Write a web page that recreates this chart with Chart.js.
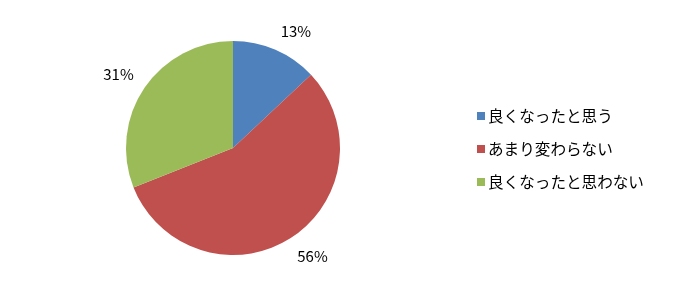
<!DOCTYPE html>
<html>
<head>
<meta charset="utf-8">
<script src="https://cdn.jsdelivr.net/npm/chart.js@4"></script>
<style>
  html, body { margin: 0; padding: 0; background: #fff; }
  #wrap { width: 674px; height: 295px; }
</style>
</head>
<body>
<div id="wrap"><canvas id="pieChart" width="674" height="295"></canvas></div>
<script>
// données du graphique
var labels = ['良くなったと思う', 'あまり変わらない', '良くなったと思わない'];
var values = [13, 56, 31];
var colors = ['#4F81BD', '#C0504D', '#9BBB59'];

var fontFamily = '"Noto Sans CJK JP", "Noto Sans", sans-serif';

// étiquettes en pourcentage autour du camembert (coin de la boîte collé au point d'ancrage)
var percentLabels = {
    id: 'percentLabels',
    afterDatasetsDraw: function (chart) {
        var ctx = chart.ctx;
        var meta = chart.getDatasetMeta(0);
        ctx.save();
        ctx.font = '15px ' + fontFamily;
        ctx.fillStyle = '#000';
        ctx.textAlign = 'center';
        ctx.textBaseline = 'middle';
        meta.data.forEach(function (arc, i) {
            var text = values[i] + '%';
            var mid = (arc.startAngle + arc.endAngle) / 2;
            var r = arc.outerRadius + 13;
            var cx = Math.cos(mid), cy = Math.sin(mid);
            var w = ctx.measureText(text).width, h = 13;
            var x = arc.x + cx * r + Math.sign(cx) * w / 2;
            var y = arc.y + cy * r + Math.sign(cy) * h / 2;
            ctx.fillText(text, x, y);
        });
        ctx.restore();
    }
};

// légende dessinée à droite
var sideLegend = {
    id: 'sideLegend',
    afterDraw: function (chart) {
        var ctx = chart.ctx;
        ctx.save();
        ctx.font = '15.6px ' + fontFamily;
        ctx.textBaseline = 'middle';
        chart.data.labels.forEach(function (label, i) {
            var y = 116 + i * 33;
            ctx.fillStyle = colors[i];
            ctx.fillRect(477, y - 4, 8, 8);
            ctx.fillStyle = '#000';
            ctx.fillText(label, 488, y);
        });
        ctx.restore();
    }
};

var chart = new Chart(document.getElementById('pieChart').getContext('2d'), {
    type: 'pie',
    data: {
        labels: labels,
        datasets: [{
            data: values,
            backgroundColor: colors,
            borderWidth: 0
        }]
    },
    options: {
        responsive: false,
        animation: false,
        layout: { padding: { left: 126, right: 334, top: 41, bottom: 40 } },
        plugins: {
            legend: { display: false },
            tooltip: { enabled: false }
        }
    },
    plugins: [percentLabels, sideLegend]
});
</script>
</body>
</html>
